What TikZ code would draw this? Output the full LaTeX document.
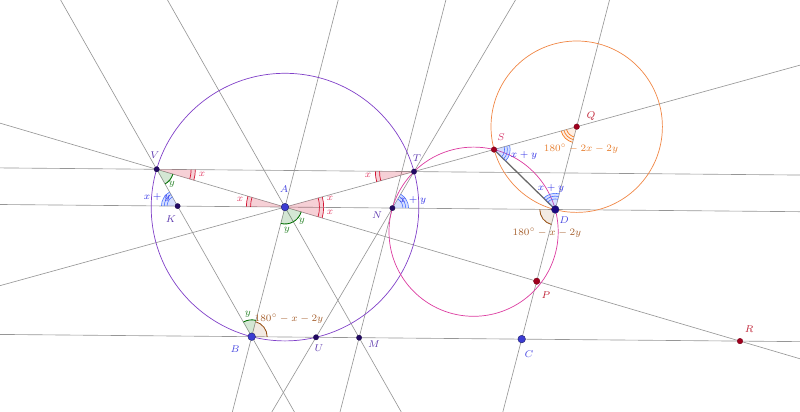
\documentclass[tikz,border=0pt]{standalone}
\usepackage[usenames,dvipsnames]{xcolor}
\usepackage{amsmath,amssymb}
\usepackage{tikz}
\usetikzlibrary{calc}
\usetikzlibrary{angles}

\definecolor{linegray}{RGB}{150,150,150}
\definecolor{seggray}{RGB}{105,105,105}
\definecolor{circviolet}{RGB}{128,64,200}
\definecolor{circmagenta}{RGB}{220,60,160}
\definecolor{circorange}{RGB}{240,135,70}
\definecolor{angred}{RGB}{210,20,50}
\definecolor{anggreen}{RGB}{0,110,0}
\definecolor{angblue}{RGB}{70,110,255}
\definecolor{angbrown}{RGB}{150,80,20}
\definecolor{angorange}{RGB}{245,120,30}
\definecolor{txtred}{RGB}{225,60,100}
\definecolor{txtgreen}{RGB}{40,130,40}
\definecolor{txtblue}{RGB}{50,50,230}
\definecolor{txtbrown}{RGB}{165,95,45}
\definecolor{txtorange}{RGB}{230,125,45}
\definecolor{ptdark}{RGB}{35,10,100}
\definecolor{ptblue}{RGB}{60,60,210}
\definecolor{ptred}{RGB}{160,0,30}
\definecolor{labpurple}{RGB}{95,60,175}
\definecolor{labblue}{RGB}{70,70,225}
\definecolor{labpink}{RGB}{215,60,110}
\definecolor{labred}{RGB}{190,30,50}

\tikzset{
	gline/.style={draw=linegray, line width=0.45pt},
	seg/.style={draw=seggray, line width=0.9pt},
	circA/.style={draw=circviolet, line width=0.5pt},
	circT/.style={draw=circmagenta, line width=0.5pt},
	circQ/.style={draw=circorange, line width=0.5pt},
	xwedge/.style={draw=angred, fill=angred, fill opacity=0.2, line width=0.5pt, angle radius=27.5pt},
	xarc/.style={draw=angred, line width=0.5pt, angle radius=24.5pt},
	ywedge/.style={draw=anggreen, fill=anggreen, fill opacity=0.17, line width=0.6pt, angle radius=12pt},
	swedge/.style={draw=angblue, fill=angblue, fill opacity=0.22, line width=0.4pt, angle radius=11.5pt},
	sarc/.style={draw=angblue, line width=0.4pt},
	zwedge/.style={draw=angbrown, fill=angbrown, fill opacity=0.12, line width=0.6pt, angle radius=11pt},
	owedge/.style={draw=angorange, fill=angorange, fill opacity=0.12, line width=0.5pt, angle radius=11.5pt},
	oarc/.style={draw=angorange, line width=0.5pt},
	dep/.style={circle, fill=ptdark, draw=ptdark!70!black, line width=0.2pt, inner sep=0pt, minimum size=3.8pt},
	free/.style={circle, fill=ptblue, draw=ptblue!50!black, line width=0.3pt, inner sep=0pt, minimum size=5.4pt},
	redpt/.style={circle, fill=ptred, draw=ptred!70!black, line width=0.2pt, inner sep=0pt, minimum size=4pt}
}

\begin{document}
\begin{tikzpicture}[x=0.025cm, y=-0.025cm]
	\useasboundingbox (0,0) rectangle (800,412);
	\clip (0,0) rectangle (800,412);
	\coordinate (V) at (156.7,169.3);
	\coordinate (T) at (414.0,171.6);
	\coordinate (K) at (177.6,206.1);
	\coordinate (A) at (285.0,207.1);
	\coordinate (N) at (392.4,208.1);
	\coordinate (D) at (555.25,209.5);
	\coordinate (S) at (494.0,149.6);
	\coordinate (Q) at (576.7,126.7);
	\coordinate (P) at (536.7,281.2);
	\coordinate (B) at (251.7,336.7);
	\coordinate (U) at (316.0,337.3);
	\coordinate (M) at (359.1,337.7);
	\coordinate (C) at (521.7,339.1);
	\coordinate (R) at (740.0,341.1);
	\coordinate (Kw) at ($(K)!-1!(A)$);
	\coordinate (O2) at (473.6,231.7);

	\foreach \p/\q in {V/T, K/D, B/R, V/R, A/Q, V/B, A/M, A/B, T/U, N/M, Q/C}
		\draw[gline] ($(\p)!-6!(\q)$) -- ($(\p)!6!(\q)$);
	\draw[seg] (S) -- (D);

	\draw[circA] (A) circle (133.8);
	\draw[circT] (O2) circle (84.6);
	\draw[circQ] (Q) circle (85.7);

	\foreach \a/\b/\c in {A/V/T, V/A/K, N/A/T, P/A/N, V/T/A}{
		\path pic[xwedge] {angle=\a--\b--\c};
		\path pic[xarc] {angle=\a--\b--\c};
	}
	\foreach \a/\b/\c in {K/V/A, B/A/M, M/A/P, A/B/V}
		\path pic[ywedge] {angle=\a--\b--\c};
	\foreach \a/\b/\c in {V/K/Kw, D/N/T, D/S/Q, Q/D/S}{
		\path pic[swedge] {angle=\a--\b--\c};
		\path pic[sarc, angle radius=9.5pt] {angle=\a--\b--\c};
		\path pic[sarc, angle radius=7.5pt] {angle=\a--\b--\c};
	}
	\foreach \a/\b/\c in {N/D/C, U/B/A}
		\path pic[zwedge] {angle=\a--\b--\c};
	\path pic[owedge] {angle=S--Q--D};
	\path pic[oarc, angle radius=9.5pt] {angle=S--Q--D};
	\path pic[oarc, angle radius=7.5pt] {angle=S--Q--D};

	\node[dep] (dV) at (V) {};
	\node[dep] (dT) at (T) {};
	\node[dep] (dK) at (K) {};
	\node[dep] (dN) at (N) {};
	\node[dep] (dU) at (U) {};
	\node[dep] (dM) at (M) {};
	\node[free] (dA) at (A) {};
	\node[free] (dB) at (B) {};
	\node[free] (dC) at (C) {};
	\node[free, fill=ptdark!80!blue] (dD) at (D) {};
	\node[redpt] (dS) at (S) {};
	\node[redpt] (dQ) at (Q) {};
	\node[redpt, minimum size=4.6pt] (dP) at (P) {};
	\node[redpt] (dR) at (R) {};

	\begin{scope}[every node/.style={font=\scriptsize, inner sep=0pt}]
		\node[text=labpurple] (lV) at (155,155) {$V$};
		\node[text=labpurple] (lT) at (417,158) {$T$};
		\node[text=labpurple] (lK) at (171,219) {$K$};
		\node[text=labblue] (lA) at (284,189) {$A$};
		\node[text=labpurple] (lN) at (377,215) {$N$};
		\node[text=labpink] (lS) at (501,137) {$S$};
		\node[text=labred] (lQ) at (591,116) {$Q$};
		\node[text=labblue] (lD) at (564,220) {$D$};
		\node[text=labred] (lP) at (546,295) {$P$};
		\node[text=labred] (lR) at (749,329) {$R$};
		\node[text=labblue] (lC) at (529,354) {$C$};
		\node[text=labblue] (lB) at (235,349) {$B$};
		\node[text=labpurple] (lU) at (319,348) {$U$};
		\node[text=labpurple] (lM) at (374,344) {$M$};

		\node[text=txtred] (xV) at (202,174) {$x$};
		\node[text=txtred] (xA1) at (240,199) {$x$};
		\node[text=txtred] (xA2) at (330,198) {$x$};
		\node[text=txtred] (xA3) at (330,212) {$x$};
		\node[text=txtred] (xT) at (368,175) {$x$};
		\node[text=txtgreen] (yV) at (172,184) {$y$};
		\node[text=txtgreen] (yA1) at (302,221) {$y$};
		\node[text=txtgreen] (yA2) at (287,230) {$y$};
		\node[text=txtgreen] (yB) at (248,314) {$y$};
		\node[text=txtblue] (sK) at (157,197) {$x+y$};
		\node[text=txtblue] (sN) at (413,200) {$x+y$};
		\node[text=txtblue] (sS) at (524,155) {$x+y$};
		\node[text=txtblue] (sD) at (551,188) {$x+y$};
		\node[text=txtbrown] (zD) at (547,233) {$180^\circ-x-2y$};
		\node[text=txtbrown] (zB) at (289,319) {$180^\circ-x-2y$};
		\node[text=txtorange] (oQ) at (581,149) {$180^\circ-2x-2y$};
	\end{scope}
\end{tikzpicture}
\end{document}
